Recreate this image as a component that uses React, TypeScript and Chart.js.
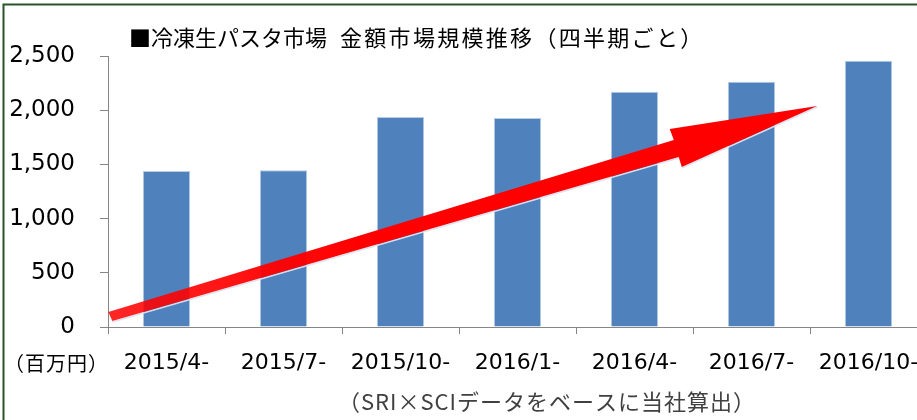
import React, { useEffect, useRef } from 'react';
import { Chart, registerables } from 'chart.js';

Chart.register(...registerables);

// ---- data ----
const categories = ['2015/4-', '2015/7-', '2015/10-', '2016/1-', '2016/4-', '2016/7-', '2016/10-'];
const marketValues = [1440, 1445, 1937, 1928, 2171, 2263, 2457];
const yTickValues = [0, 500, 1000, 1500, 2000, 2500];
const titleLead = '■冷凍生パスタ市場';
const titleMain = '金額市場規模推移（四半期ごと）';
const unitText = '（百万円）';
const sourceText = '（SRI×SCIデータをベースに当社算出）';
// trend arrow outline, in data space: category index / value
const arrowIndex = [-0.497, 4.336, 4.301, 5.561, 4.404, 4.378, -0.463];
const arrowValue = [138, 1725, 1827, 2039, 1476, 1568, 55];

const JP = "'Noto Sans CJK JP', 'Noto Sans', sans-serif";
const LATIN = "'DejaVu Sans', sans-serif";

const overlayPlugin = {
  id: 'overlay',
  afterDatasetsDraw(chart: any) {
    const { ctx } = chart;
    const xs = chart.scales.x;
    const ys = chart.scales.y;
    const pts = arrowIndex.map((v, i) => [xs.getPixelForValue(v), ys.getPixelForValue(arrowValue[i])]);
    ctx.save();
    const grad = ctx.createLinearGradient(pts[0][0], pts[0][1], pts[3][0], pts[3][1]);
    grad.addColorStop(0, 'rgba(255,0,0,0.85)');
    grad.addColorStop(0.35, 'rgba(255,0,0,1)');
    grad.addColorStop(1, 'rgba(255,0,0,1)');
    ctx.strokeStyle = 'rgba(215,228,242,0.95)';
    ctx.lineWidth = 1.5;
    ctx.beginPath();
    ctx.moveTo(pts[6][0], pts[6][1] + 1);
    ctx.lineTo(pts[5][0], pts[5][1] + 1);
    ctx.moveTo(pts[4][0], pts[4][1] + 1);
    ctx.lineTo(pts[3][0], pts[3][1] + 1);
    ctx.stroke();
    ctx.fillStyle = grad;
    ctx.beginPath();
    pts.forEach((p, i) => (i === 0 ? ctx.moveTo(p[0], p[1]) : ctx.lineTo(p[0], p[1])));
    ctx.closePath();
    ctx.fill();
    ctx.restore();
  },
  afterDraw(chart: any) {
    const { ctx } = chart;
    ctx.save();
    ctx.fillStyle = '#000';
    ctx.textBaseline = 'middle';
    ctx.textAlign = 'left';
    ctx.font = `22px ${JP}`;
    ctx.fillText(titleLead, 129, 38);
    (ctx as any).letterSpacing = '2.3px';
    ctx.fillText(titleMain, 340, 38);
    (ctx as any).letterSpacing = '1px';
    ctx.font = `20px ${JP}`;
    ctx.fillText(unitText, 4, 363);
    ctx.fillStyle = '#404040';
    ctx.font = `22px ${JP}`;
    ctx.textAlign = 'center';
    ctx.fillText(sourceText, 547, 402);
    (ctx as any).letterSpacing = '0px';
    ctx.strokeStyle = '#2a532b';
    ctx.lineWidth = 2;
    ctx.strokeRect(3.5, 4.5, chart.width + 20, chart.height + 20);
    ctx.restore();
  },
};

export default function App() {
  const ref = useRef<HTMLCanvasElement | null>(null);
  useEffect(() => {
    if (!ref.current) return;
    const chart = new Chart(ref.current, {
      type: 'bar',
      data: {
        labels: categories,
        datasets: [
          {
            data: marketValues,
            backgroundColor: '#4F81BD',
            borderColor: '#B9CDE5',
            borderWidth: 1,
            barPercentage: 0.405,
            categoryPercentage: 1,
          },
        ],
      },
      options: {
        animation: false,
        responsive: false,
        devicePixelRatio: 1,
        layout: { padding: { top: 56, right: 0, bottom: 0, left: 0 } },
        plugins: { legend: { display: false }, tooltip: { enabled: false }, title: { display: false } },
        scales: {
          x: {
            grid: { drawOnChartArea: false, tickLength: 7, color: '#868686', offset: true },
            border: { color: '#868686', width: 1 },
            ticks: { color: '#000', font: { family: LATIN, size: 22 }, padding: 16, maxRotation: 0, autoSkip: false },
            afterFit: (s: any) => {
              s.height = 93;
              s.paddingLeft = 0;
              s.paddingRight = 0;
            },
          },
          y: {
            min: 0,
            max: 2500,
            afterBuildTicks: (s: any) => {
              s.ticks = yTickValues.map((v) => ({ value: v }));
            },
            ticks: {
              color: '#000',
              font: { family: LATIN, size: 23 },
              padding: 25,
              callback: (v: any) => Number(v).toLocaleString('en-US'),
            },
            grid: { drawOnChartArea: false, tickLength: 8, color: '#868686' },
            border: { color: '#868686', width: 1 },
            afterFit: (s: any) => {
              s.width = 108;
            },
          },
        },
      },
      plugins: [overlayPlugin],
    });
    return () => chart.destroy();
  }, []);
  return (
    <div style={{ position: 'fixed', left: 0, top: 0, width: 917, height: 420, overflow: 'hidden', background: '#fff' }}>
      <canvas ref={ref} width={927} height={420} style={{ display: 'block', width: 927, height: 420 }} />
    </div>
  );
}
